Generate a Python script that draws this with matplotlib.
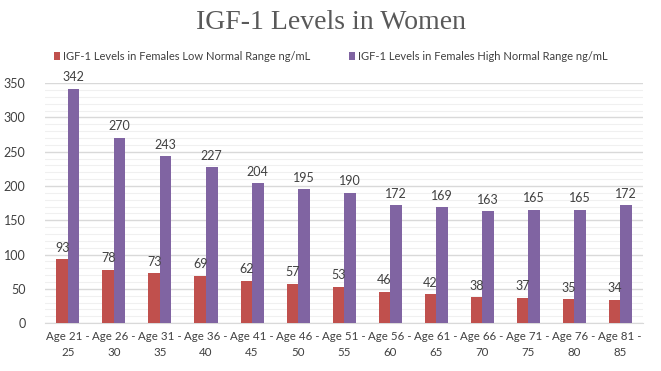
import numpy as np
import matplotlib
matplotlib.use("Agg")
import matplotlib.pyplot as plt
from matplotlib.ticker import MultipleLocator

categories = ["Age 21 -\n25", "Age 26 -\n30", "Age 31 -\n35", "Age 36 -\n40", "Age 41 -\n45",
              "Age 46 -\n50", "Age 51 -\n55", "Age 56 -\n60", "Age 61 -\n65", "Age 66 -\n70",
              "Age 71 -\n75", "Age 76 -\n80", "Age 81 -\n85"]
low_range = [93, 78, 73, 69, 62, 57, 53, 46, 42, 38, 37, 35, 34]
high_range = [342, 270, 243, 227, 204, 195, 190, 172, 169, 163, 165, 165, 172]

plt.rcParams['font.family'] = ['Lato', 'DejaVu Sans']

fig = plt.figure(figsize=(6.61, 3.71), dpi=100)
ax = fig.add_axes([0.068, 0.129, 0.905, 0.647])

x = np.arange(len(categories))
w = 0.25
b1 = ax.bar(x - w / 2, low_range, w, color="#C0504D",
            label="IGF-1 Levels in Females Low Normal Range ng/mL", zorder=3)
b2 = ax.bar(x + w / 2, high_range, w, color="#8064A2",
            label="IGF-1 Levels in Females High Normal Range ng/mL", zorder=3)
ax.bar_label(b1, padding=4, fontsize=9, color="#404040")
ax.bar_label(b2, padding=4, fontsize=9, color="#404040")

ax.set_ylim(0, 350)
ax.set_xlim(-0.5, len(categories) - 0.5)
ax.yaxis.set_major_locator(MultipleLocator(50))
ax.yaxis.set_minor_locator(MultipleLocator(10))
ax.grid(axis="y", which="major", color="#D9D9D9", lw=1, zorder=0)
ax.grid(axis="y", which="minor", color="#F0F0F0", lw=0.8, zorder=0)
ax.set_xticks(x)
ax.set_xticklabels(categories, fontsize=8.3, color="#404040", linespacing=1.5)
ax.tick_params(axis="y", labelsize=9, labelcolor="#404040", length=0, pad=14)
ax.tick_params(axis="x", length=0, pad=6)
ax.tick_params(which="minor", length=0)
for s in ["top", "right", "left"]:
    ax.spines[s].set_visible(False)
ax.spines["bottom"].set_color("#D9D9D9")

fig.text(0.5, 0.94, "IGF-1 Levels in Women", ha="center", va="center",
         fontsize=20, color="#595959", family="Liberation Serif")
fig.legend(handles=[b1, b2], loc="center", bbox_to_anchor=(0.5, 0.848), ncol=2,
           frameon=False, fontsize=8, handlelength=0.6, handleheight=0.6,
           handletextpad=0.2, columnspacing=3.5, labelcolor="#404040")

fig.savefig("out.png", dpi=100)
